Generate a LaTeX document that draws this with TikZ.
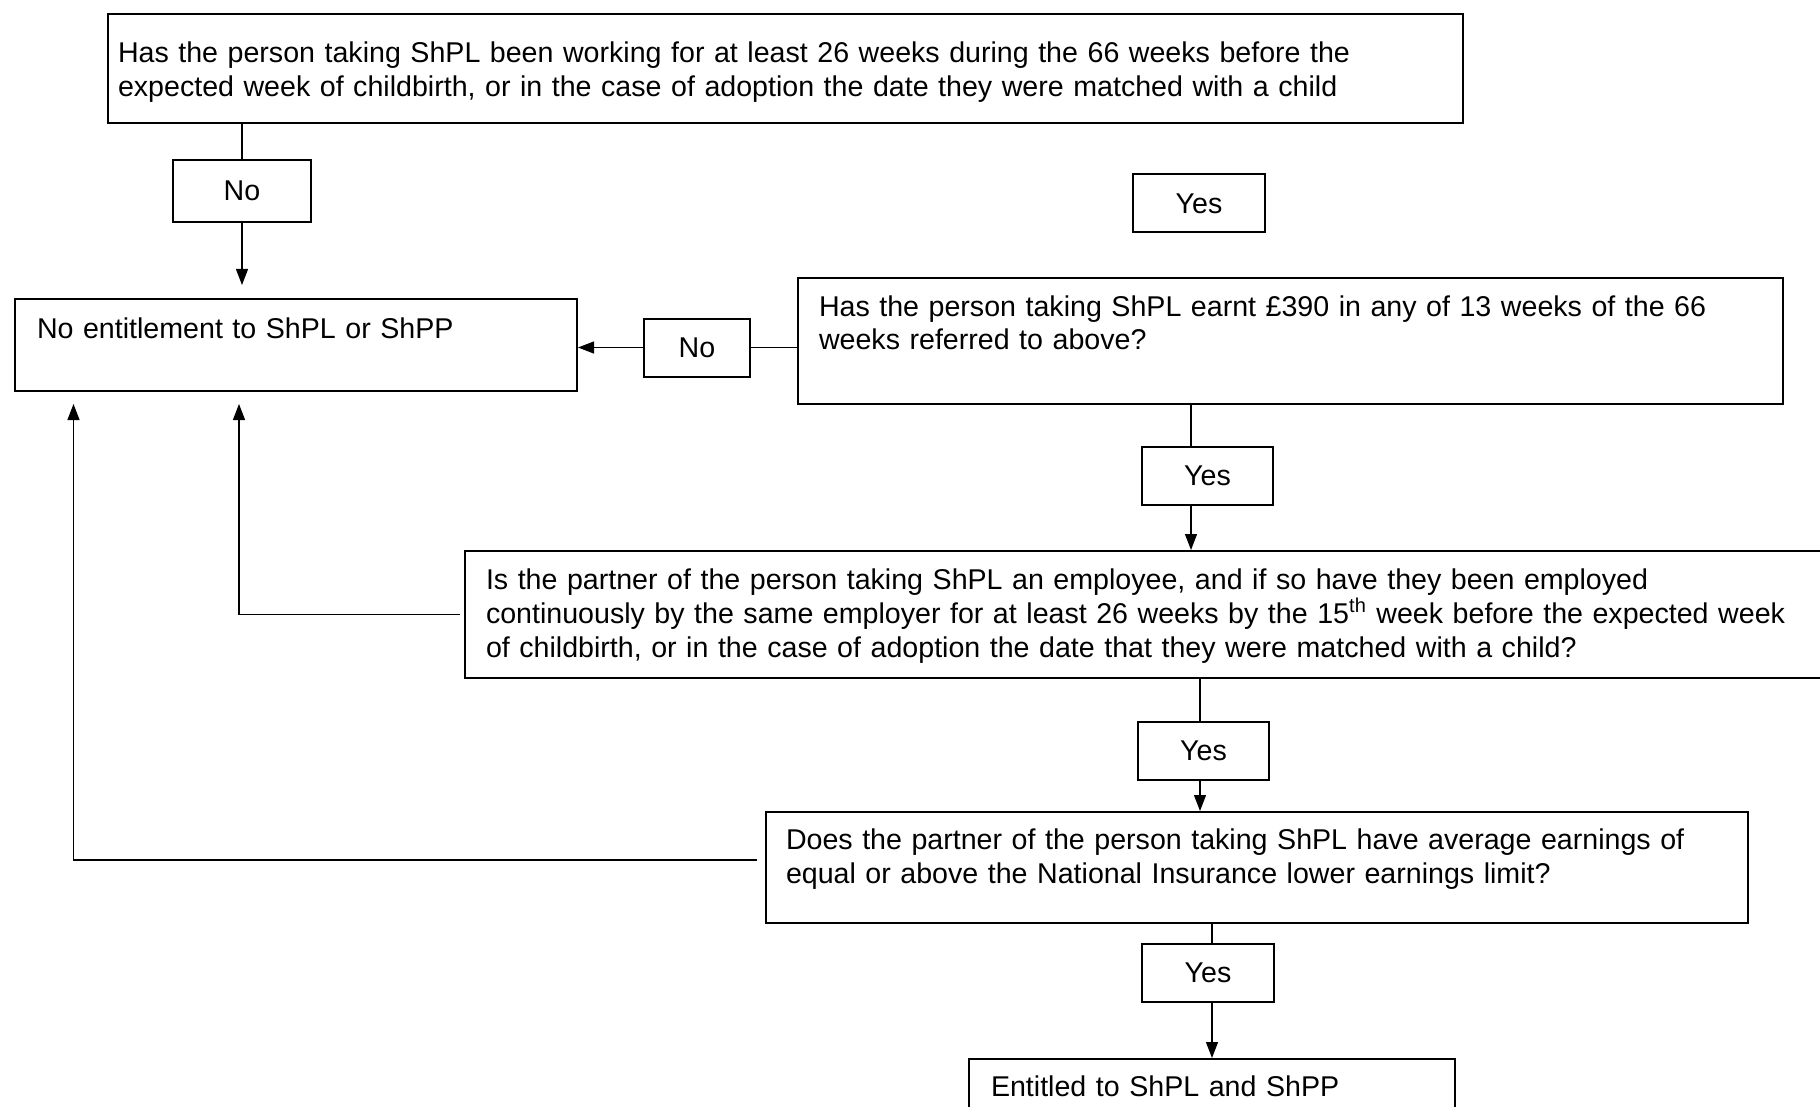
\documentclass[tikz,border=0pt]{standalone}
\usepackage{fontspec}
\setmainfont{Liberation Sans}
\usetikzlibrary{arrows.meta}

\begin{document}
\begin{tikzpicture}[x=0.5pt,y=-0.5pt,line width=0.6pt,
    every node/.style={font=\fontsize{14.3}{17}\selectfont},
    qbox/.style={draw,line width=1pt,anchor=north west,align=left,inner ysep=0pt},
    ansbox/.style={draw,line width=1pt,minimum height=29pt},
    arr/.style={-{Triangle[length=8pt,width=6pt]}}]
    \useasboundingbox (0,0) rectangle (1820,1107);
    \clip (0,0) rectangle (1820,1107);

    % Fragen und Ergebnisse
    \node[qbox,inner xsep=5pt,text width=667.5pt,text height=24.5pt,text depth=30pt] (q1) at (107,13)
        {Has the person taking ShPL been working for at least 26 weeks during the 66 weeks before the\\
         expected week of childbirth, or in the case of adoption the date they were matched with a child};
    \node[qbox,inner xsep=11pt,text width=259pt,text height=19.5pt,text depth=26.5pt] (noent) at (14,298)
        {No entitlement to ShPL or ShPP};
    \node[qbox,inner xsep=10.5pt,text width=471.5pt,text height=19pt,text depth=44pt] (q2) at (797,277)
        {Has the person taking ShPL earnt £390 in any of 13 weeks of the 66\\
         weeks referred to above?};
    \node[qbox,inner xsep=10.5pt,text width=679pt,text height=19pt,text depth=44.5pt] (q3) at (464,550)
        {Is the partner of the person taking ShPL an employee, and if so have they been employed\\
         continuously by the same employer for at least 26 weeks by the 15\textsuperscript{th} week before the expected week\\
         of childbirth, or in the case of adoption the date that they were matched with a child?};
    \node[qbox,inner xsep=10pt,text width=471pt,text height=18.5pt,text depth=37pt] (q4) at (765,811)
        {Does the partner of the person taking ShPL have average earnings of\\
         equal or above the National Insurance lower earnings limit?};
    \node[qbox,inner xsep=11pt,text width=221pt,text height=18.5pt,text depth=22.5pt] (ent) at (968,1058)
        {Entitled to ShPL and ShPP};

    % Antworten
    \node[ansbox,minimum width=69pt,minimum height=31pt] (no1) at (242,191) {No};
    \node[ansbox,minimum width=66pt] (yes1) at (1199,203.5) {Yes};
    \node[ansbox,minimum width=53pt] (no2) at (697,347.5) {No};
    \node[ansbox,minimum width=65.5pt] (yes2) at (1207.5,476) {Yes};
    \node[ansbox,minimum width=65.5pt] (yes3) at (1203.5,751) {Yes};
    \node[ansbox,minimum width=66pt] (yes4) at (1208,973) {Yes};

    % Verbindungen
    \draw (no1.north |- q1.south) -- (no1.north);
    \draw[arr] (no1.south) -- ([yshift=6.5pt]no1.south |- noent.north);
    \draw (q2.west |- no2) -- (no2.east);
    \draw[arr] (no2.west) -- (noent.east |- no2);
    \draw ([xshift=-8.25pt]yes2.north |- q2.south) -- ([xshift=-8.25pt]yes2.north);
    \draw[arr] ([xshift=-8.25pt]yes2.south) -- ([xshift=-8.25pt]yes2.south |- q3.north);
    \draw ([xshift=-1.75pt]yes3.north |- q3.south) -- ([xshift=-1.75pt]yes3.north);
    \draw[arr] ([xshift=-1.75pt]yes3.south) -- ([xshift=-1.75pt]yes3.south |- q4.north);
    \draw ([xshift=2pt]yes4.north |- q4.south) -- ([xshift=2pt]yes4.north);
    \draw[arr] ([xshift=2pt]yes4.south) -- ([xshift=2pt]yes4.south |- ent.north);
    \draw[arr] ([xshift=-2pt]q3.west) -| ([xshift=-28.5pt,yshift=-6pt]noent.south);
    \draw[arr] ([xshift=-4pt,yshift=3.75pt]q4.west) -| ([xshift=-111.25pt,yshift=-6pt]noent.south);
\end{tikzpicture}
\end{document}
